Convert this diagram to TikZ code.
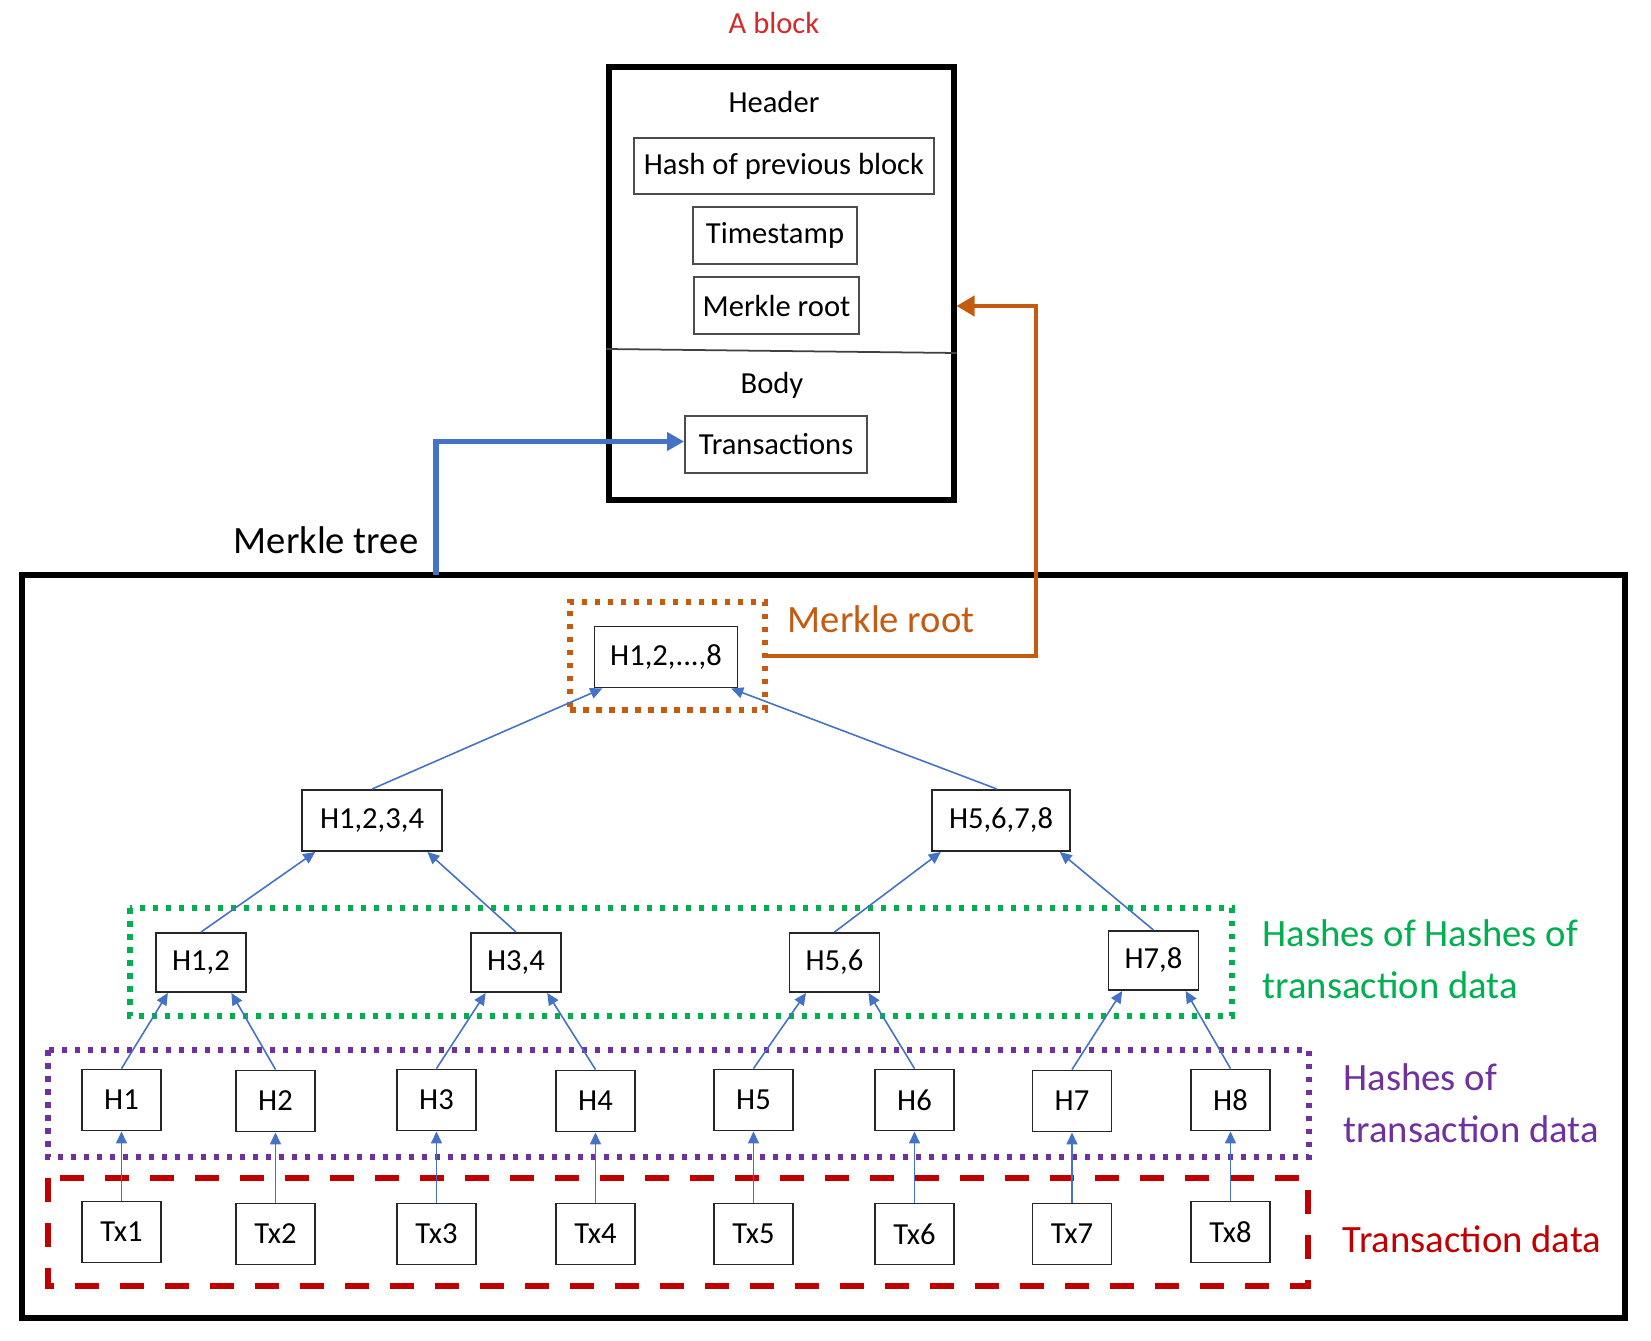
\documentclass[tikz,border=0pt]{standalone}
\usepackage{fontspec}
\setmainfont{Carlito}
\usepackage{xcolor}
\usetikzlibrary{arrows.meta,calc}

\definecolor{hashblue}{HTML}{4472C4}
\definecolor{rootorange}{HTML}{C55A11}
\definecolor{lvlgreen}{HTML}{00B050}
\definecolor{lvlpurple}{HTML}{7030A0}
\definecolor{txred}{HTML}{C00000}
\definecolor{titlered}{HTML}{D42A2A}

\begin{document}
\begin{tikzpicture}[x=0.1mm,y=-0.1mm,
    every node/.style={font=\fontsize{8.7}{10}\selectfont},
    big/.style={font=\fontsize{11}{14.8}\selectfont,inner sep=0pt},
    hbox/.style={draw=black!85,line width=0.55pt,inner sep=0pt,minimum height=6.1mm},
    fbox/.style={draw=black!70,line width=0.55pt,inner sep=0pt,minimum height=5.7mm},
    up/.style={draw=hashblue,line width=0.45pt,-{Triangle[length=1.2mm,width=1.1mm]}},
    dotbox/.style={line width=0.6mm,dash pattern=on 0.55mm off 0.75mm}]
          \useasboundingbox (0,0) rectangle (1651,1341);

          % the block
          \node[text=titlered,anchor=base] (title) at (774,34) {A block};
          \node[draw,line width=1.45pt,minimum width=34.5mm,minimum height=43.3mm] (block) at (781.5,283.5) {};
          \node[anchor=base] (header) at (774,113) {Header};
          \node[fbox,minimum width=30mm,minimum height=5.6mm] (prev) at (784,166) {Hash of previous block};
          \node[fbox,minimum width=16.4mm] (stamp) at (775,235.5) {Timestamp};
          \node[fbox,minimum width=16.5mm] (mroot) at (776.5,305.5) {Merkle root};
          \draw[draw=black!75,line width=0.5pt] (block.west |- 0,349) -- (block.east |- 0,353);
          \node[anchor=base] (body) at (772,393) {Body};
          \node[fbox,minimum width=18.2mm] (txs) at (776,444.5) {Transactions};

          % the tree
          \node[big,anchor=base east] (mtlabel) at (419,553) {Merkle tree};
          \node[draw,line width=1.7pt,minimum width=160.3mm,minimum height=74.3mm] (tree) at (823.5,946.5) {};
          \coordinate (mtfoot) at (436,575);
          \coordinate (bend) at (1036,306);

          \node[draw=rootorange,dotbox,minimum width=19.5mm,minimum height=10.8mm] (rootgrp) at (667.5,656) {};
          \node[big,text=rootorange,anchor=base west] (rootlbl) at (787,632) {Merkle root};
          \draw[draw=lvlgreen,dotbox] (130,908) rectangle (1232,1016);
          \node[big,text=lvlgreen,anchor=west,align=left] (grnlbl) at (1262,959) {Hashes of Hashes of\\transaction data};
          \draw[draw=lvlpurple,dotbox] (48,1050) rectangle (1309,1157);
          \node[big,text=lvlpurple,anchor=west,align=left] (purlbl) at (1343,1103) {Hashes of\\transaction data};
          \draw[draw=txred,line width=0.6mm,dash pattern=on 2.4mm off 2.1mm] (48,1178) rectangle (1308,1286);
          \node[big,text=txred,anchor=base west] (redlbl) at (1342,1252) {Transaction data};

          \node[hbox,minimum width=14.3mm] (h18) at (666,657) {H1,2,...,8};
          \node[hbox,minimum width=14mm] (h1234) at (372,820.5) {H1,2,3,4};
          \node[hbox,minimum width=13.8mm] (h5678) at (1001,820.5) {H5,6,7,8};
          \node[hbox,minimum width=9mm,minimum height=5.9mm] (h12) at (201,962.5) {H1,2};
          \node[hbox,minimum width=9mm,minimum height=5.9mm] (h34) at (516,962.5) {H3,4};
          \node[hbox,minimum width=9mm,minimum height=5.9mm] (h56) at (834.5,962.5) {H5,6};
          \node[hbox,minimum width=9mm,minimum height=5.9mm] (h78) at (1153.5,960.5) {H7,8};

          \node[hbox,minimum width=7.9mm] (h1) at (121.5,1100) {H1};
          \node[hbox,minimum width=7.9mm] (h2) at (275.5,1101) {H2};
          \node[hbox,minimum width=7.9mm] (h3) at (436.5,1100) {H3};
          \node[hbox,minimum width=7.9mm] (h4) at (595.5,1101) {H4};
          \node[hbox,minimum width=7.9mm] (h5) at (753.5,1100) {H5};
          \node[hbox,minimum width=7.9mm] (h6) at (914.5,1100) {H6};
          \node[hbox,minimum width=7.9mm] (h7) at (1072,1101) {H7};
          \node[hbox,minimum width=7.9mm] (h8) at (1230.5,1100) {H8};

          \node[hbox,minimum width=7.9mm] (tx1) at (121.5,1232) {Tx1};
          \node[hbox,minimum width=7.9mm] (tx2) at (275.5,1234) {Tx2};
          \node[hbox,minimum width=7.9mm] (tx3) at (436.5,1234) {Tx3};
          \node[hbox,minimum width=7.9mm] (tx4) at (595.5,1234) {Tx4};
          \node[hbox,minimum width=7.9mm] (tx5) at (753.5,1234) {Tx5};
          \node[hbox,minimum width=7.9mm] (tx6) at (914.5,1234) {Tx6};
          \node[hbox,minimum width=7.9mm] (tx7) at (1072,1234) {Tx7};
          \node[hbox,minimum width=7.9mm] (tx8) at (1230.5,1232) {Tx8};

          % hashing arrows
          \draw[up] (tx1) -- (h1);
          \draw[up] (tx2) -- (h2);
          \draw[up] (tx3) -- (h3);
          \draw[up] (tx4) -- (h4);
          \draw[up] (tx5) -- (h5);
          \draw[up] (tx6) -- (h6);
          \draw[up] (tx7) -- (h7);
          \draw[up] (tx8) -- (h8);

          \draw[up] (h1.north) -- ($(h12.south west)!.14!(h12.south east)$);
          \draw[up] (h2.north) -- ($(h12.south west)!.83!(h12.south east)$);
          \draw[up] (h3.north) -- ($(h34.south west)!.17!(h34.south east)$);
          \draw[up] (h4.north) -- ($(h34.south west)!.84!(h34.south east)$);
          \draw[up] (h5.north) -- ($(h56.south west)!.19!(h56.south east)$);
          \draw[up] (h6.north) -- ($(h56.south west)!.87!(h56.south east)$);
          \draw[up] (h7.north) -- ($(h78.south west)!.16!(h78.south east)$);
          \draw[up] (h8.north) -- ($(h78.south west)!.85!(h78.south east)$);

          \draw[up] (h12.north) -- ($(h1234.south west)!.1!(h1234.south east)$);
          \draw[up] (h34.north) -- ($(h1234.south west)!.89!(h1234.south east)$);
          \draw[up] (h56.north) -- ($(h5678.south west)!.07!(h5678.south east)$);
          \draw[up] (h78.north) -- ($(h5678.south west)!.92!(h5678.south east)$);

          \draw[up] (h1234.north) -- ($(h18.south west)!.06!(h18.south east)$);
          \draw[up] ([xshift=-0.4mm]h5678.north) -- ($(h18.south west)!.95!(h18.south east)$);

          % links to the block
          \draw[draw=hashblue,line width=1.45pt,-{Triangle[length=1.7mm,width=1.8mm]}] (mtfoot) |- ([yshift=0.3mm]txs.west);
          \draw[draw=rootorange,line width=1.2pt,-{Triangle[length=1.8mm,width=2mm]}] (rootgrp.east) -| (bend) -- (block.east |- bend);
        \end{tikzpicture}
\end{document}
